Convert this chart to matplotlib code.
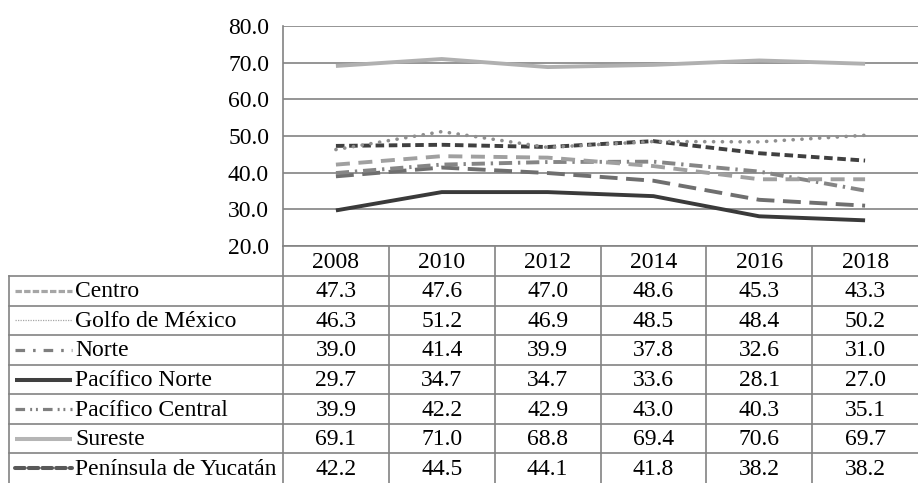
import matplotlib
matplotlib.use('Agg')
import matplotlib.pyplot as plt
from matplotlib.lines import Line2D

years = ['2008', '2010', '2012', '2014', '2016', '2018']
centro = [47.3, 47.6, 47.0, 48.6, 45.3, 43.3]
golfo = [46.3, 51.2, 46.9, 48.5, 48.4, 50.2]
norte = [39.0, 41.4, 39.9, 37.8, 32.6, 31.0]
pac_norte = [29.7, 34.7, 34.7, 33.6, 28.1, 27.0]
pac_central = [39.9, 42.2, 42.9, 43.0, 40.3, 35.1]
sureste = [69.1, 71.0, 68.8, 69.4, 70.6, 69.7]
peninsula = [42.2, 44.5, 44.1, 41.8, 38.2, 38.2]

names = ['Centro', 'Golfo de México', 'Norte', 'Pacífico Norte',
         'Pacífico Central', 'Sureste', 'Península de Yucatán']
series = [centro, golfo, norte, pac_norte, pac_central, sureste, peninsula]

# line styles as drawn in the chart: (colour, linewidth, dashes, capstyle)
line_styles = [
    ('#404040', 2.8, (2.2, 1.2), 'butt'),
    ('#8f8f8f', 2.6, (0.05, 2.4), 'round'),
    ('#6f6f6f', 2.8, (4.6, 2.2), 'butt'),
    ('#3a3a3a', 2.8, None, 'butt'),
    ('#858585', 2.8, (3.4, 1.5, 0.6, 1.5), 'butt'),
    ('#b0b0b0', 2.8, None, 'butt'),
    ('#a0a0a0', 2.8, (3.6, 2.2), 'butt'),
]
# legend keys as drawn in the table
key_styles = [
    ('#a6a6a6', 2.3, (2.0, 0.7), 'butt'),
    ('#a6a6a6', 0.9, (1.0, 1.0), 'butt'),
    ('#7f7f7f', 2.3, (3.0, 2.5, 0.8, 2.5), 'butt'),
    ('#404040', 2.9, None, 'butt'),
    ('#7f7f7f', 2.3, (3.0, 1.6, 0.6, 1.2, 0.6, 1.6), 'butt'),
    ('#b5b5b5', 2.9, None, 'butt'),
    ('#595959', 2.9, (2.4, 1.0), 'round'),
]

plt.rcParams['font.family'] = ['Liberation Serif', 'DejaVu Serif']
fs = 17
grid_c = '#838383'

W, H = 918, 483
fig = plt.figure(figsize=(W / 100, H / 100), dpi=100)

# chart area
ax = fig.add_axes([283 / W, (H - 246) / H, (W - 283) / W, 220 / H])
x = [i + 0.5 for i in range(len(years))]
for vals, (c, lw, d, cap) in zip(series, line_styles):
    ln, = ax.plot(x, vals, color=c, lw=lw, solid_capstyle='butt',
                  dash_capstyle=cap)
    if d is not None:
        ln.set_dashes(d)
ax.set_xlim(0, len(years))
ax.set_ylim(20, 80)
ax.set_yticks(range(20, 81, 10))
ax.set_yticklabels(['%.1f' % v for v in range(20, 81, 10)], fontsize=17)
ax.set_xticks([])
ax.tick_params(axis='y', length=0, pad=10)
ax.yaxis.grid(True, color=grid_c, lw=1.2)
for s in ['top', 'right']:
    ax.spines[s].set_visible(False)
ax.spines['left'].set_color(grid_c)
ax.spines['bottom'].set_color(grid_c)
ax.spines['left'].set_linewidth(1.2)
ax.spines['bottom'].set_linewidth(1.2)

# data table underneath, drawn in pixel units
tab = fig.add_axes([0, 0, 1, (H - 246) / H])
tab.set_xlim(0, W)
tab.set_ylim(H, 246)
tab.axis('off')
left, x0, top, hdr = 9, 283, 246, 276
col_w = (W - x0) / len(years)
row_h = (H - hdr) / len(names)

# header
for j, yr in enumerate(years):
    tab.text(x0 + (j + 0.5) * col_w, (top + hdr) / 2 + 1, yr, fontsize=fs,
             ha='center', va='center')
# grid lines
tab.plot([left, W], [hdr, hdr], color=grid_c, lw=1.2)
for i in range(1, len(names)):
    yy = hdr + i * row_h
    tab.plot([left, W], [yy, yy], color=grid_c, lw=1.2)
tab.plot([left, left], [hdr, H], color=grid_c, lw=1.2)
for j in range(len(years)):
    xx = x0 + j * col_w
    tab.plot([xx, xx], [top, H], color=grid_c, lw=1.2)

# rows
for i, (name, vals, ks) in enumerate(zip(names, series, key_styles)):
    yc = hdr + (i + 0.5) * row_h
    c, lw, d, cap = ks
    key = Line2D([15, 72], [yc, yc], color=c, lw=lw, solid_capstyle='butt',
                 dash_capstyle=cap)
    if d is not None:
        key.set_dashes(d)
    tab.add_line(key)
    tab.text(75, yc + 1, name, fontsize=fs, ha='left', va='center')
    for j, v in enumerate(vals):
        tab.text(x0 + (j + 0.5) * col_w, yc + 1, '%.1f' % v, fontsize=fs,
                 ha='center', va='center')

fig.savefig('out.png', dpi=100)
